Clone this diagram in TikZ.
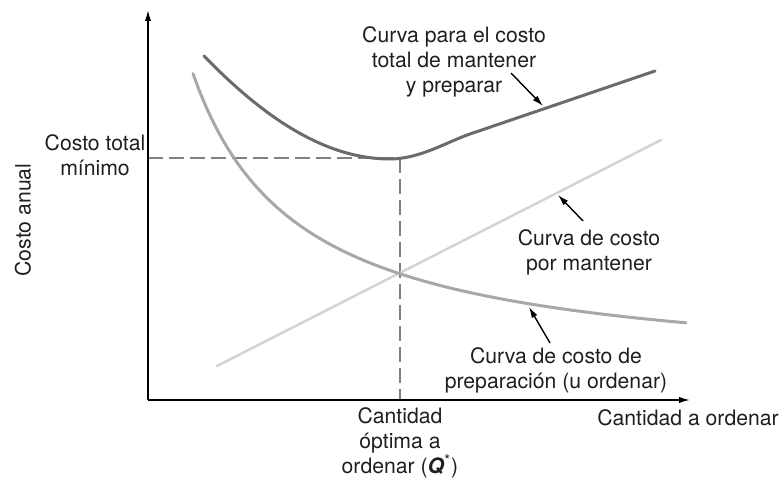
\documentclass[tikz,border=0pt]{standalone}
\usepackage{fontspec}
\setmainfont{TeX Gyre Heros}
\usetikzlibrary{arrows.meta, positioning}
\definecolor{totalgray}{gray}{0.42}
\definecolor{prepgray}{gray}{0.66}
\definecolor{mantgray}{gray}{0.83}
\tikzset{
    axisline/.style={line width=0.75pt, -{Latex[length=5.5pt,width=3.2pt]}},
    guide/.style={gray, line width=0.65pt, dash pattern=on 7.5pt off 3pt},
    lbl/.style={align=center, inner sep=0pt, text=black!88,
        font=\fontsize{10.6}{12.4}\selectfont},
    pointer/.style={line width=0.7pt, -{Latex[length=5.5pt,width=3.2pt]}},
    costcurve/.style={line width=1.5pt, line cap=round}
}
\begin{document}
\begin{tikzpicture}[x=0.5pt, y=-0.5pt]
    \useasboundingbox (0,0) rectangle (782,480);
    % axes
    \coordinate (O) at (148,400);
    \coordinate (ytop) at (148,10);
    \coordinate (xend) at (690,400);
    \coordinate (Pmin) at (400,158);
    \coordinate (Ymin) at (148,158);
    \coordinate (Xopt) at (400,400);
    \draw[guide] (Ymin) -- (Pmin);
    \draw[guide] (Pmin) -- (Xopt);
    \draw[costcurve, mantgray, line width=1.25pt] (217,366) -- (661,140);
    \draw[costcurve, prepgray] plot[domain=193:686, samples=90]
        (\x, {376.5 - 321.63/((\x-86.8)/100)});
    \draw[costcurve, totalgray] (204,56) .. controls (270,124) and (330,159) .. (390,159)
        .. controls (420,159) and (448,141.4) .. (470,134) -- (655,71);
    \draw[axisline] (O) -- (ytop);
    \draw[axisline] (O) -- (xend);
    % labels
    \node[lbl, rotate=90] (ylab) at (23,220) {Costo anual};
    \node[lbl] (tmin) at (95,155) {Costo total\\mínimo};
    \node[lbl] (xlab) at (688,418) {Cantidad a ordenar};
    \node[lbl] (qopt) at (400,443) {Cantidad\\óptima a\\ordenar (\textbf{\textit{Q}}\textsuperscript{*})};
    \node[lbl] (ctotal) at (454,62) {Curva para el costo\\total de mantener\\y preparar};
    \node[lbl] (cmant) at (589,252) {Curva de costo\\por mantener};
    \node[lbl] (cprep) at (556,370) {Curva de costo de\\preparación (u ordenar)};
    % pointers
    \coordinate (t1) at (511,73);
    \coordinate (t2) at (543,106);
    \coordinate (m1) at (583,221);
    \coordinate (m2) at (558,195);
    \coordinate (p1) at (550,343);
    \coordinate (p2) at (529,307);
    \draw[pointer] (t1) -- (t2);
    \draw[pointer] (m1) -- (m2);
    \draw[pointer] (p1) -- (p2);
\end{tikzpicture}
\end{document}
